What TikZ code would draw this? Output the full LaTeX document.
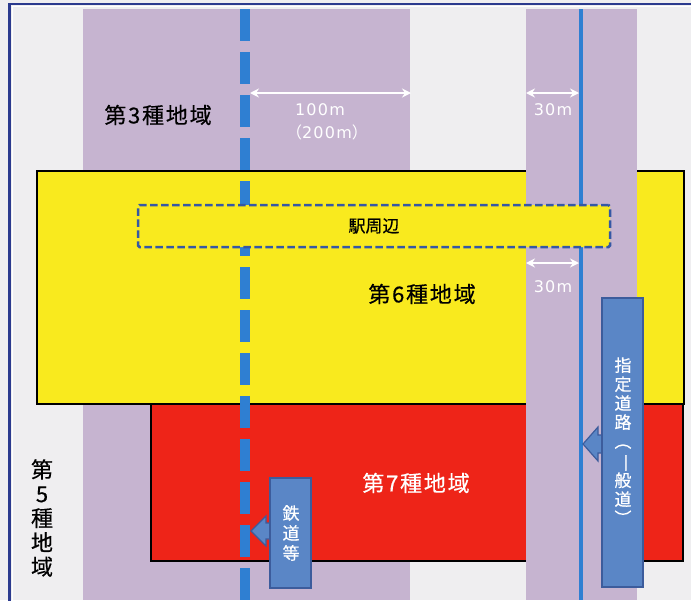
\documentclass[tikz,border=0pt]{standalone}
\usepackage{fontspec}
\usepackage{graphicx}
\setmainfont{Noto Sans CJK JP}
\newfontfamily\latn[LetterSpace=8]{DejaVu Sans}
\newfontfamily\jpspaced[LetterSpace=8,FakeBold=0.5]{Noto Sans CJK JP}
\newfontfamily\jpbold[FakeBold=0.4]{Noto Sans CJK JP}
\usetikzlibrary{arrows.meta,calc}
\definecolor{bgcol}{HTML}{EFEEF0}
\definecolor{framecol}{HTML}{2B3A8E}
\definecolor{bandcol}{HTML}{C6B4D0}
\definecolor{yelcol}{HTML}{F9EA1E}
\definecolor{redcol}{HTML}{EE2418}
\definecolor{linecol}{HTML}{2F7FD2}
\definecolor{boxdash}{HTML}{3558A5}
\definecolor{callfill}{HTML}{5A86C6}
\definecolor{calldraw}{HTML}{3C5C9C}
\tikzset{
  band/.style={fill=bandcol, draw=none},
  zone/.style={draw=black, line width=2pt},
  jtext/.style={font=\jpspaced\fontsize{22}{24}\selectfont, inner sep=0pt},
  calltext/.style={font=\jpbold\fontsize{17}{19}\selectfont, text=white, align=center, inner sep=0pt},
  callbox/.style={fill=callfill, draw=calldraw, line width=1.2pt, inner sep=0pt},
  meas/.style={white, line width=2.2pt, {Stealth[length=9pt,width=9pt]}-{Stealth[length=9pt,width=9pt]}},
  meastext/.style={text=white, font=\latn\fontsize{16}{18}\selectfont, inner sep=0pt},
}
\begin{document}
\begin{tikzpicture}[x=1pt,y=-1pt]
\useasboundingbox (0,0) rectangle (691,600);
% background and frame
\fill[bgcol] (0,0) rectangle (691,600);
\draw[framecol, line width=2.5pt] (9.5,4) rectangle (710,620);
\draw[white, line width=1pt] (12,6.5) -- (12,600);
\draw[white, line width=1pt] (12,6.5) -- (691,6.5);
% left band (under zones)
\fill[band] (83,9) rectangle (410,600);
% zones
\node[zone, fill=yelcol, minimum width=647, minimum height=233, inner sep=0pt, anchor=north west] (zone6) at (36,170) {};
\node[zone, fill=redcol, minimum width=532, minimum height=157, inner sep=0pt, anchor=north west] (zone7) at (150,403) {};
% right band (over zones)
\fill[band] (526,9) rectangle (637,600);
% road line and railway
\coordinate (roadtop) at (581,9);
\coordinate (roadbot) at (581,600);
\draw[linecol, line width=4pt] (roadtop) -- (roadbot);
\coordinate (railtop) at (245,9);
\coordinate (railbot) at (245,600);
\draw[linecol, line width=10pt, dash pattern=on 32pt off 11pt] (railtop) -- (railbot);
% station area box
\node[fill=yelcol, draw=boxdash, line width=2.5pt, dash pattern=on 7.5pt off 3.5pt, rounded corners=1.5pt,
      minimum width=472, minimum height=42, inner sep=0pt, font=\jpbold\fontsize{17}{20}\selectfont] (station) at (374,226) {駅周辺};
% measurement arrows
\coordinate (m1a) at (250,93); \coordinate (m1b) at (411,93);
\coordinate (m2a) at (526,93); \coordinate (m2b) at (579,93);
\coordinate (m3a) at (526,263); \coordinate (m3b) at (579,263);
\draw[meas] (m1a) -- (m1b);
\draw[meas] (m2a) -- (m2b);
\draw[meas] (m3a) -- (m3b);
\node[meastext] (t100) at (320,110) {100m};
\node[meastext] (t200) at (327,132) {{\rmfamily（}200m{\rmfamily）}};
\node[meastext] (t30a) at (553,110) {30m};
\node[meastext] (t30b) at (553,287) {30m};
% zone labels
\node[jtext] (z3) at (158,115) {第3種地域};
\node[jtext] (z6) at (422,294) {第6種地域};
\node[jtext, text=white] (z7) at (416,483) {第7種地域};
\node[jtext, align=center, font=\jpbold\fontsize{22}{24.3}\selectfont] (z5) at (42,518) {第\\5\\種\\地\\域};
% callout: designated road
\coordinate (roadtip) at (583,444);
\path[callbox] (roadtip) -- ++(15,-17) -- ++(0,8) -- ++(5,0) -- ++(0,18) -- ++(-5,0) -- ++(0,8) -- cycle;
\node[callbox, minimum width=41, minimum height=289] (roadbox) at (622.5,442.5) {};
\node[calltext] (roadlbl) at (623,442) {指\\定\\道\\路\\\rotatebox[origin=c]{-90}{（}\\\rotatebox[origin=c]{-90}{一}\\般\\道\\\rotatebox[origin=c]{-90}{）}};
% callout: railway
\coordinate (railtip) at (251,531);
\path[callbox] (railtip) -- ++(15,-15) -- ++(0,7) -- ++(5,0) -- ++(0,16) -- ++(-5,0) -- ++(0,7) -- cycle;
\node[callbox, minimum width=41, minimum height=110] (railbox) at (290.5,533) {};
\node[calltext, font=\jpbold\fontsize{17}{20}\selectfont] (raillbl) at (291,533) {鉄\\道\\等};
\end{tikzpicture}
\end{document}
